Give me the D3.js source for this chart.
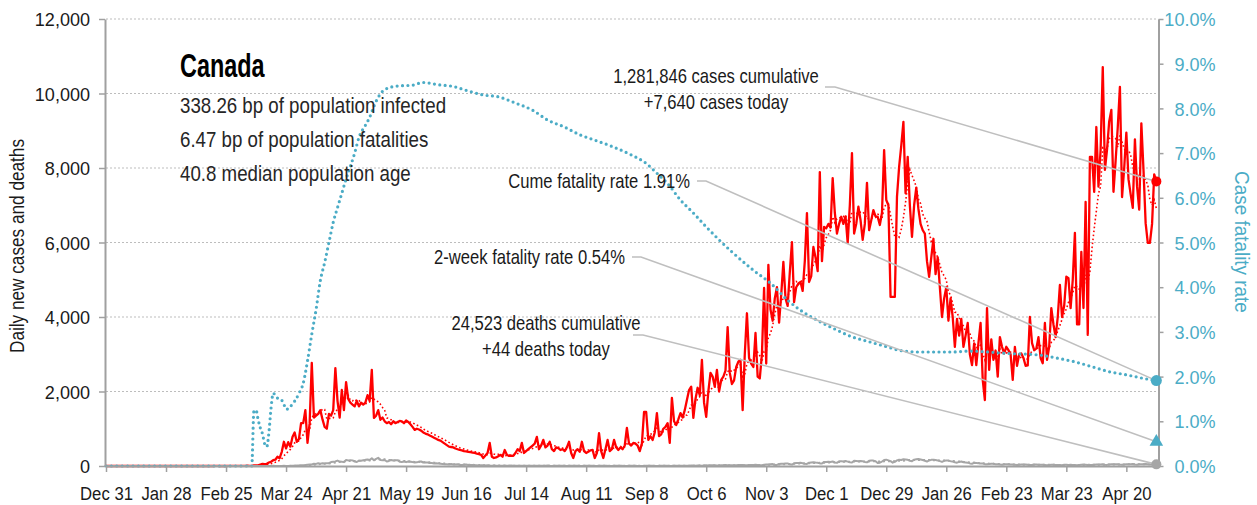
<!DOCTYPE html>
<html><head><meta charset="utf-8">
<script src="https://cdn.jsdelivr.net/npm/d3@7"></script>
<style>
body{margin:0;background:#fff;}
svg text{font-family:"Liberation Sans",Arial,sans-serif;}
</style></head><body><svg id="c" width="1257" height="505"></svg>
<script>
// ---------- DATA ----------
const startDate = "2019-12-31";
const endDate = "2021-05-05";

const cases2019Dec = [0];
const cases2020Jan = [0,0,0,0,0,0,0,0,0,0,0,0,0,0,0,0,0,0,0,0,0,0,0,0,1,0,1,0,0,0,1];
const cases2020Feb = [0,0,0,0,1,0,0,0,0,0,0,0,0,0,0,0,0,0,0,1,1,0,0,1,0,1,2,1,3];
const cases2020Mar = [4,3,3,3,3,9,6,5,15,16,16,39,56,51,60,93,115,155,168,247,210,380,650,470,640,520,780,900,650,720,1150];
const cases2020Apr = [1150,1500,620,1150,2770,1300,1350,1400,1500,1250,1050,1000,1400,1350,1500,2630,1750,1300,2040,1500,2250,1800,1700,1650,1600,1750,1600,1700,1650,1700];
const cases2020May = [1900,1750,2580,1290,1350,1500,1240,1300,1200,1150,1180,1120,1200,1150,1180,1210,1200,1150,1220,1180,1120,1050,970,1000,980,950,900,870,850,820,790];
const cases2020Jun = [760,730,700,680,640,600,560,520,510,500,470,450,430,420,400,390,380,370,360,350,330,320,300,215,280,350,620,250,215,230];
const cases2020Jul = [260,300,250,430,300,270,280,270,350,450,400,620,350,400,450,500,550,600,780,450,550,700,500,550,650,450,400,500,480,430,450];
const cases2020Aug = [400,500,650,350,215,400,450,380,650,400,350,380,420,430,215,350,880,400,215,450,700,400,450,700,500,430,500,450,550,1020,600];
const cases2020Sep = [550,620,600,550,400,600,1450,1450,700,800,700,900,1420,800,850,1000,1050,1150,620,1830,1200,1100,1250,1420,1300,1500,1770,2040,2130,1290];
const cases2020Oct = [1800,2100,1900,2850,1700,1320,2000,2500,2400,2130,2580,2000,2310,2400,2560,3730,2500,2200,2300,2660,2800,2850,1500,3000,4100,2900,2750,2660,3570,2400,2350];
const cases2020Nov = [3000,4780,2750,5400,4200,3900,4500,4800,3850,4600,5480,4500,4300,5200,6010,4400,4800,4900,4940,4700,5500,6790,4940,5100,5880,5600,5230,7890,5500,6420];
const cases2020Dec = [6380,6500,6400,7730,6800,6240,6500,6690,6500,6700,5990,7000,8400,6240,6500,6960,6600,6070,6500,7600,6330,6600,6870,6700,6690,6470,6800,8480,7140,7000,4540];
const cases2021Jan = [4540,4540,7230,8030,8600,9240,7320,8300,7000,6150,7000,7470,6900,6500,6330,6240,5500,5080,5600,6100,5150,5600,4800,4000,4500,4800,3900,4500,4000,3200,3950];
const cases2021Feb = [3500,3950,3200,3500,3840,3000,2710,3290,2710,3300,3840,2310,1770,4240,2580,3400,2850,3100,2400,3460,3200,3020,3200,3110,3000,2310,3200,2690];
const cases2021Mar = [3000,3020,2900,2690,2700,4000,3300,3110,3150,3460,2900,2760,3840,2850,3200,4240,3800,3460,4000,4860,4000,4300,5080,5040,4240,5000,6260,3800,3800,5750,4240];
const cases2021Apr = [7090,3520,8300,8300,7360,9100,7500,8500,10710,7950,8500,9250,9560,7360,8200,9100,10180,7220,8000,8950,7700,7300,6930,8770,7500,6880,9200,7950,6520,5990];
const cases2021May = [5990,6500,7830,7640];

const deaths2019Dec = [0];
const deaths2020Jan = [0,0,0,0,0,0,0,0,0,0,0,0,0,0,0,0,0,0,0,0,0,0,0,0,0,0,0,0,0,0,0];
const deaths2020Feb = [0,0,0,0,0,0,0,0,0,0,0,0,0,0,0,0,0,0,0,0,0,0,0,0,0,0,0,0,0];
const deaths2020Mar = [0,0,0,0,0,0,0,0,1,0,0,0,0,0,0,1,3,4,1,2,2,1,4,3,3,8,6,7,12,12,18];
const deaths2020Apr = [23,27,35,40,43,62,56,74,64,73,69,72,74,106,115,123,146,118,112,104,161,151,155,151,121,107,142,139,152,165];
const deaths2020May = [176,160,208,152,189,220,160,157,162,120,136,161,146,152,157,113,107,121,103,120,116,105,97,98,118,121,94,93,91,82,78];
const deaths2020Jun = [70,72,65,60,55,50,45,40,55,42,38,45,30,28,35,40,28,25,30,22,18,15,23,18,12,20,10,8,12,10];
const deaths2020Jul = [8,6,10,12,9,7,11,8,6,9,5,4,7,8,10,6,5,4,9,7,6,8,5,11,4,3,6,7,8,5,4];
const deaths2020Aug = [5,3,4,6,8,5,7,4,3,6,5,8,4,7,3,2,5,6,4,9,5,3,2,6,7,5,8,4,3,2,5];
const deaths2020Sep = [4,6,5,3,2,3,2,5,7,4,6,3,2,4,8,6,5,7,3,4,9,6,7,8,5,6,4,9,11,13];
const deaths2020Oct = [10,14,12,8,15,17,14,20,18,22,15,12,18,21,25,19,20,17,23,22,25,28,24,19,20,30,27,26,33,29,24];
const deaths2020Nov = [22,35,40,38,45,52,30,28,55,60,58,65,70,45,40,72,78,80,85,75,60,55,90,95,100,92,88,70,65,110];
const deaths2020Dec = [105,115,110,120,95,85,125,130,120,135,118,100,95,140,135,128,132,125,110,98,140,150,145,130,80,90,120,160,170,150,130];
const deaths2021Jan = [90,110,150,170,160,180,175,165,140,130,170,180,190,175,160,140,120,150,165,170,160,150,130,110,140,150,145,130,120,100,90];
const deaths2021Feb = [110,120,100,95,90,70,60,85,80,75,70,65,50,45,55,60,58,50,45,40,35,45,50,48,42,38,35,30];
const deaths2021Mar = [35,40,38,42,36,30,25,40,38,35,32,34,28,22,30,36,33,30,28,25,20,32,35,30,33,28,25,22,30,35,38];
const deaths2021Apr = [36,30,28,25,35,40,42,38,45,32,30,40,44,48,50,45,38,35,42,50,48,46,52,40,35,45,50,48,52,45];
const deaths2021May = [40,38,50,44];

// cumulative case fatality rate (%), read at points along the curve
const cfrDates = ["2019-12-31","2020-03-08","2020-03-09","2020-03-10","2020-03-11","2020-03-12","2020-03-13","2020-03-14","2020-03-15","2020-03-16","2020-03-17","2020-03-18","2020-03-19","2020-03-20","2020-03-21","2020-03-22","2020-03-23","2020-03-24","2020-03-25","2020-03-26","2020-03-28","2020-03-30","2020-04-01","2020-04-03","2020-04-05","2020-04-07","2020-04-09","2020-04-11","2020-04-13","2020-04-15","2020-04-17","2020-04-19","2020-04-21","2020-04-23","2020-04-25","2020-04-27","2020-04-30","2020-05-02","2020-05-04","2020-05-06","2020-05-09","2020-05-15","2020-05-22","2020-05-27","2020-06-03","2020-06-10","2020-06-17","2020-06-24","2020-07-01","2020-07-09","2020-07-17","2020-07-24","2020-08-01","2020-08-08","2020-08-15","2020-08-23","2020-09-01","2020-09-08","2020-09-13","2020-09-18","2020-09-24","2020-09-30","2020-10-06","2020-10-12","2020-10-18","2020-10-28","2020-11-05","2020-11-13","2020-11-20","2020-11-28","2020-12-06","2020-12-13","2020-12-21","2020-12-29","2021-01-05","2021-01-14","2021-01-28","2021-02-06","2021-02-23","2021-03-11","2021-03-19","2021-03-27","2021-04-04","2021-04-12","2021-04-20","2021-04-28","2021-05-04"];
const cfrValues = [0,0,1.23,1.25,1.03,0.85,0.72,0.5,0.43,0.75,1.3,1.63,1.58,1.52,1.5,1.47,1.38,1.27,1.28,1.33,1.45,1.62,1.85,2.35,2.95,3.5,4.15,4.55,5.0,5.45,5.78,6.1,6.42,6.7,7.0,7.35,7.62,7.8,8.05,8.25,8.42,8.5,8.52,8.58,8.53,8.49,8.39,8.3,8.26,8.12,7.96,7.74,7.58,7.41,7.29,7.15,6.96,6.77,6.55,6.32,5.95,5.66,5.35,5.06,4.79,4.38,4.09,3.71,3.45,3.23,3.04,2.89,2.78,2.67,2.58,2.55,2.55,2.57,2.52,2.48,2.41,2.33,2.22,2.11,2.04,1.96,1.91];

const tickDates = ["2019-12-31","2020-01-28","2020-02-25","2020-03-24","2020-04-21","2020-05-19","2020-06-16","2020-07-14","2020-08-11","2020-09-08","2020-10-06","2020-11-03","2020-12-01","2020-12-29","2021-01-26","2021-02-23","2021-03-23","2021-04-20"];
const leftTicks = [0,2000,4000,6000,8000,10000,12000];
const rightTicks = [0,1,2,3,4,5,6,7,8,9,10];

const country = "Canada";
const bpInfected = "338.26";
const bpFatalities = "6.47";
const medianAge = "40.8";
const cumulativeCases = 1281846;
const casesToday = 7640;
const cumulativeDeaths = 24523;
const deathsToday = 44;
const cumeFatalityRate = 1.91;
const twoWeekFatalityRate = 0.54;

// ---------- BUILD ----------
const cases = [].concat(cases2019Dec,cases2020Jan,cases2020Feb,cases2020Mar,cases2020Apr,cases2020May,cases2020Jun,cases2020Jul,cases2020Aug,cases2020Sep,cases2020Oct,cases2020Nov,cases2020Dec,cases2021Jan,cases2021Feb,cases2021Mar,cases2021Apr,cases2021May);
const deaths = [].concat(deaths2019Dec,deaths2020Jan,deaths2020Feb,deaths2020Mar,deaths2020Apr,deaths2020May,deaths2020Jun,deaths2020Jul,deaths2020Aug,deaths2020Sep,deaths2020Oct,deaths2020Nov,deaths2020Dec,deaths2021Jan,deaths2021Feb,deaths2021Mar,deaths2021Apr,deaths2021May);
const parse = d3.utcParse("%Y-%m-%d");
const day0 = parse(startDate).getTime();
const dayDate = i => new Date(day0 + i*864e5);
function rolling(arr){ const out=[]; for(let i=6;i<arr.length;i++){ let s=0; for(let k=i-6;k<=i;k++) s+=arr[k]; out.push([i,s/7]); } return out; }
const casesAvg = rolling(cases), deathsAvg = rolling(deaths);
const cfr = cfrDates.map((d,i)=>[parse(d), cfrValues[i]]);

const TEAL="#4bacc6", RED="#ff0000", GRAY="#a6a6a6", AX="#a0a0a0";
const svg = d3.select("#c");
const x = d3.scaleUtc().domain([parse(startDate), parse(endDate)]).range([106, 1158.5]);
const yL = d3.scaleLinear().domain([0,12000]).range([466,19]);
const yR = d3.scaleLinear().domain([0,10]).range([466,19]);

// horizontal condensing of text (narrow-font look)
function cond(sel, sx){
  sel.each(function(){
    const t=d3.select(this); const tx=+t.attr("x")||0, ty=+t.attr("y")||0;
    t.attr("x",0).attr("y",0).attr("transform",`translate(${tx},${ty}) scale(${sx},1)`);
  });
}

// grid
svg.append("g").selectAll("line").data(leftTicks.filter(d=>d>0)).join("line")
  .attr("x1",106).attr("x2",1158).attr("y1",d=>yL(d)).attr("y2",d=>yL(d))
  .attr("stroke","#bdbdbd").attr("stroke-width",1).attr("stroke-dasharray","2,2");

// data lines
const lineDay = d3.line().x((d,i)=>x(dayDate(i))).y(d=>yL(d));
const lineAvg = d3.line().x(d=>x(dayDate(d[0]))).y(d=>yL(d[1]));
svg.append("path").datum(cases).attr("d",lineDay).attr("fill","none").attr("stroke",RED).attr("stroke-width",2.3).attr("stroke-linejoin","round");
svg.append("path").datum(casesAvg).attr("d",lineAvg).attr("fill","none").attr("stroke",RED).attr("stroke-width",1.6).attr("stroke-dasharray","1.6,2.4");
svg.append("path").datum(deaths).attr("d",lineDay).attr("fill","none").attr("stroke",GRAY).attr("stroke-width",2).attr("stroke-linejoin","round");
svg.append("path").datum(deathsAvg).attr("d",lineAvg).attr("fill","none").attr("stroke",GRAY).attr("stroke-width",2).attr("stroke-dasharray","2,3");
svg.append("path").datum(cfr).attr("d",d3.line().x(d=>x(d[0])).y(d=>yR(d[1])).curve(d3.curveMonotoneX))
  .attr("fill","none").attr("stroke",TEAL).attr("stroke-width",3.2).attr("stroke-linecap","round").attr("stroke-dasharray","0,5.4");

// axes
function styleAxis(g){ g.selectAll(".domain").attr("stroke",AX).attr("stroke-width",2); g.selectAll(".tick line").attr("stroke",AX).attr("stroke-width",1.5); }
const gL = svg.append("g").attr("transform","translate(105,0)")
  .call(d3.axisLeft(yL).tickValues(leftTicks).tickSize(6).tickSizeOuter(0).tickFormat(d3.format(",")));
styleAxis(gL);
gL.selectAll("text").attr("font-size",19).attr("fill","#1a1a1a").attr("x",-15).attr("dy","0.35em").call(cond,0.95);
const gR = svg.append("g").attr("transform","translate(1158.5,0)")
  .call(d3.axisRight(yR).tickValues(rightTicks).tickSize(5).tickSizeOuter(0).tickFormat(d=>d3.format(".1f")(d)+"%"));
styleAxis(gR);
gR.selectAll("text").attr("font-size",19).attr("fill",TEAL).attr("text-anchor","end").attr("x",57).attr("dy","0.35em").call(cond,0.95);
const gB = svg.append("g").attr("transform","translate(0,466)")
  .call(d3.axisBottom(x).tickValues(tickDates.map(parse)).tickSize(6).tickSizeOuter(0).tickFormat(d3.utcFormat("%b %-d")));
styleAxis(gB);
gB.selectAll("text").attr("font-size",19).attr("fill","#1a1a1a").attr("y",34).attr("dy",null).call(cond,0.88);

// axis titles
svg.append("text").attr("transform","translate(24,246) rotate(-90) scale(0.86,1)").attr("text-anchor","middle")
  .attr("font-size",20).attr("fill","#1a1a1a").text("Daily new cases and deaths");
svg.append("text").attr("transform","translate(1235,242) rotate(90) scale(0.9,1)").attr("text-anchor","middle")
  .attr("font-size",21).attr("fill",TEAL).text("Case fatality rate");

// markers
const lastI = cases.length-1, lx = x(dayDate(lastI));
const mCases = [lx, yL(casesToday)], mCfr=[lx, yR(cumeFatalityRate)], mTwo=[lx, yR(twoWeekFatalityRate)], mDeaths=[lx, yL(deathsToday)];

// connectors
const conn = [
  [[825,87],[835,87],mCases],
  [[697,181],[706,181],mCfr],
  [[632,257],[641,257],mTwo],
  [[633,335],[643,335],mDeaths]
];
svg.append("g").selectAll("path").data(conn).join("path").attr("d",d3.line()).attr("fill","none")
  .attr("stroke","#bfbfbf").attr("stroke-width",1.6);

svg.append("circle").attr("cx",mCases[0]).attr("cy",mCases[1]).attr("r",5).attr("fill",RED);
svg.append("circle").attr("cx",mCfr[0]).attr("cy",mCfr[1]).attr("r",5.5).attr("fill",TEAL);
svg.append("path").attr("transform",`translate(${mTwo[0]},${mTwo[1]})`).attr("d",d3.symbol(d3.symbolTriangle,80)()).attr("fill",TEAL);
svg.append("circle").attr("cx",mDeaths[0]).attr("cy",mDeaths[1]).attr("r",5).attr("fill",GRAY);

// texts
const fmt = d3.format(",");
svg.append("text").attr("x",180).attr("y",77).attr("font-size",33).attr("font-weight","bold").attr("fill","#000").text(country).call(cond,0.71);
const info = [bpInfected+" bp of population infected", bpFatalities+" bp of population fatalities", medianAge+" median population age"];
svg.append("g").selectAll("text").data(info).join("text").attr("x",180).attr("y",(d,i)=>113+i*34)
  .attr("font-size",22).attr("fill","#262626").text(d=>d).call(cond,0.85);

function block(lines, cx, y0, anchor){
  svg.append("g").selectAll("text").data(lines).join("text").attr("x",cx).attr("y",(d,i)=>y0+i*26)
    .attr("text-anchor",anchor).attr("font-size",20.5).attr("fill","#1a1a1a").text(d=>d).call(cond,0.81);
}
block([fmt(cumulativeCases)+" cases cumulative", "+"+fmt(casesToday)+" cases today"], 716, 83, "middle");
block(["Cume fatality rate "+cumeFatalityRate.toFixed(2)+"%"], 690, 188, "end");
block(["2-week fatality rate "+twoWeekFatalityRate.toFixed(2)+"%"], 625, 264, "end");
block([fmt(cumulativeDeaths)+" deaths cumulative", "+"+deathsToday+" deaths today"], 546, 330, "middle");
</script></body></html>
